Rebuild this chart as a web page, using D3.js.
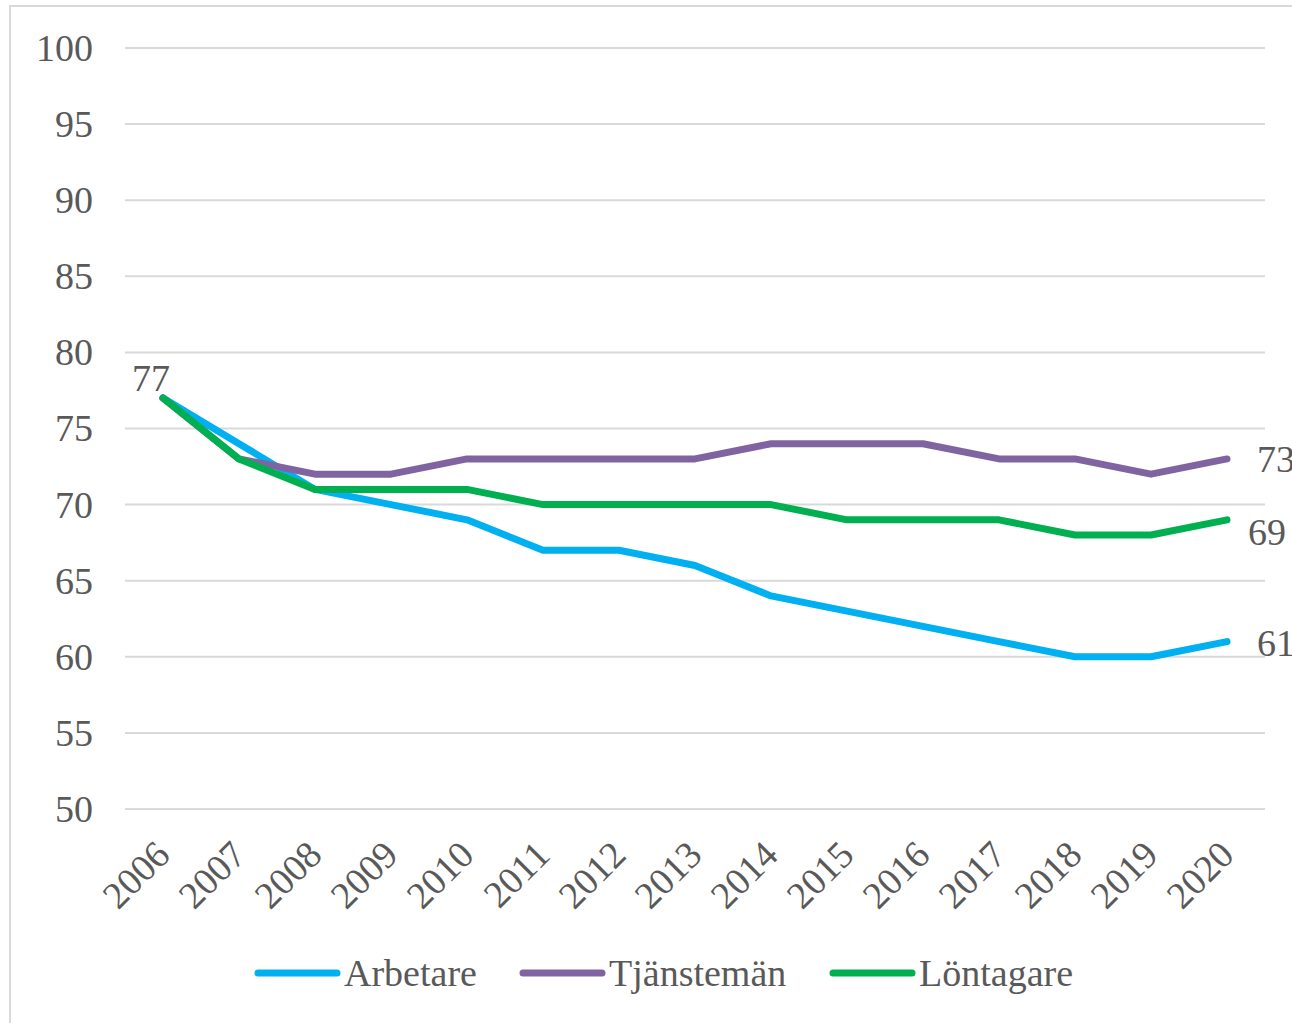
<!DOCTYPE html>
<html><head><meta charset="utf-8">
<script src="https://cdn.jsdelivr.net/npm/d3@7"></script>
<style>body{margin:0;background:#fff;} svg{display:block;} text{font-family:"Liberation Serif",serif;fill:#595959;}</style>
</head><body>
<svg id="c" width="1292" height="1023"></svg>
<script>
const years = ["2006","2007","2008","2009","2010","2011","2012","2013","2014","2015","2016","2017","2018","2019","2020"];
const arbetare = [77,74,71,70,69,67,67,66,64,63,62,61,60,60,61];
const tjanstemen = [77,73,72,72,73,73,73,73,74,74,74,73,73,72,73];
const lontagare = [77,73,71,71,71,70,70,70,70,69,69,69,68,68,69];
const seriesNames = ["Arbetare","Tjänstemän","Löntagare"];
const seriesColors = ["#00B0F0","#8064A2","#00B050"];
const yTicks = [50,55,60,65,70,75,80,85,90,95,100];

const series = [arbetare, tjanstemen, lontagare];
const FS = 38;
const svg = d3.select("#c");
svg.append("rect").attr("x",10).attr("y",6).attr("width",1320).attr("height",1040)
  .attr("fill","none").attr("stroke","#D9D9D9").attr("stroke-width",2);

const x0 = 125, x1 = 1265, yTop = 48, yBot = 809;
const x = d3.scaleBand().domain(years).range([x0,x1]);
const xc = d => x(d) + x.bandwidth()/2;
const y = d3.scaleLinear().domain([50,100]).range([yBot,yTop]);

// grid
svg.append("g").selectAll("line").data(yTicks).join("line")
  .attr("x1",x0).attr("x2",x1).attr("y1",d=>y(d)).attr("y2",d=>y(d))
  .attr("stroke","#D9D9D9").attr("stroke-width",2);

// y labels
svg.append("g").selectAll("text").data(yTicks).join("text")
  .attr("x",93).attr("y",d=>y(d)).attr("dy","0.34em").attr("text-anchor","end")
  .attr("font-size",FS).text(d=>d);

// x labels
svg.append("g").selectAll("text").data(years).join("text")
  .attr("transform",d=>`translate(${xc(d)+9},857) rotate(-45)`)
  .attr("text-anchor","end").attr("font-size",FS).text(d=>d);

// lines
const line = d3.line().x((d,i)=>xc(years[i])).y(d=>y(d));
series.forEach((s,k)=>{
  svg.append("path").attr("d",line(s)).attr("fill","none")
    .attr("stroke",seriesColors[k]).attr("stroke-width",7)
    .attr("stroke-linecap","round").attr("stroke-linejoin","round");
});

// data labels
const last = years.length-1;
svg.append("text").attr("x",xc(years[0])-12).attr("y",y(arbetare[0])-7)
  .attr("text-anchor","middle").attr("font-size",FS).text(lontagare[0]);
svg.append("text").attr("x",xc(years[last])+30).attr("y",y(tjanstemen[last])+13)
  .attr("font-size",FS).text(tjanstemen[last]);
svg.append("text").attr("x",xc(years[last])+21).attr("y",y(lontagare[last])+25)
  .attr("font-size",FS).text(lontagare[last]);
svg.append("text").attr("x",xc(years[last])+30).attr("y",y(arbetare[last])+14)
  .attr("font-size",FS).text(arbetare[last]);

// legend
const legX = [258, 523, 833];
seriesNames.forEach((n,k)=>{
  const g = svg.append("g").attr("transform",`translate(${legX[k]},973)`);
  g.append("line").attr("x1",0).attr("x2",79).attr("y1",0).attr("y2",0)
    .attr("stroke",seriesColors[k]).attr("stroke-width",7).attr("stroke-linecap","round");
  g.append("text").attr("x",86).attr("y",13).attr("font-size",FS).text(n);
});
</script>
</body></html>
